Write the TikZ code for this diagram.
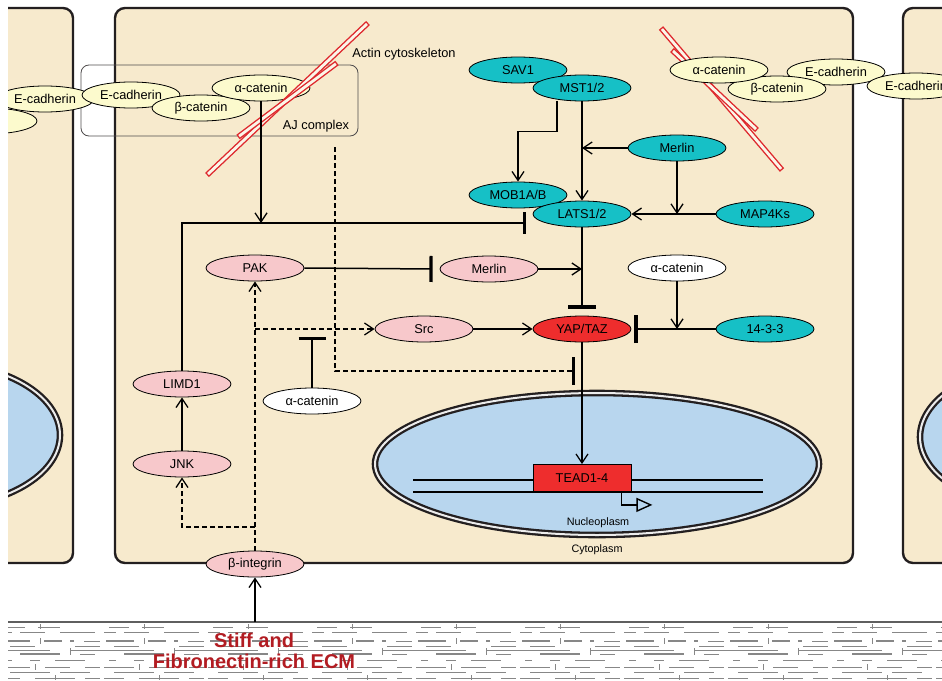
\documentclass[tikz,border=0pt]{standalone}
\usepackage{fontspec}
\setmainfont{Liberation Sans}
\usetikzlibrary{shapes.geometric,arrows.meta}
\definecolor{cellc}{RGB}{247,234,205}
\definecolor{nucc}{RGB}{184,214,238}
\definecolor{tealc}{RGB}{22,192,198}
\definecolor{pinkc}{RGB}{247,200,203}
\definecolor{creamc}{RGB}{252,250,205}
\definecolor{yapc}{RGB}{238,45,45}
\definecolor{actc}{RGB}{222,40,45}
\definecolor{ecmc}{RGB}{178,28,34}
\definecolor{edgec}{RGB}{35,31,32}
\definecolor{ecmg}{RGB}{135,135,135}
\newcommand{\actinbar}[2]{%
  \draw[actc,line width=5.6pt] #1 -- #2;
  \draw[white!55!cellc,line width=2.8pt,shorten >=1.4pt,shorten <=1.4pt] #1 -- #2;}
\tikzset{
  mol/.style={ellipse,draw=black,line width=0.8pt,minimum width=98pt,minimum height=26pt,inner sep=0pt,font=\fontsize{12.8}{14}\selectfont},
  tealn/.style={mol,fill=tealc},
  pinkn/.style={mol,fill=pinkc},
  creamn/.style={mol,fill=creamc},
  whiten/.style={mol,fill=white},
  act/.style={-{Straight Barb[length=9pt,width=12pt,line width=1.3pt]},line width=1.5pt},
  inh/.style={-{Bar[width=#1,line width=3.2pt]},line width=1.5pt},
  inh/.default=26pt,
  dsh/.style={dash pattern=on 5pt off 3pt},
  cellbox/.style={fill=cellc,draw=edgec,line width=2.4pt,rounded corners=10pt},
  nucbox/.style={fill=nucc,draw=edgec,line width=2.3pt,double=white!85!gray,double distance=2pt},
  lab/.style={font=\fontsize{12.8}{14}\selectfont,inner sep=0pt},
  slab/.style={font=\fontsize{10.8}{12}\selectfont,inner sep=0pt},
  ecmthin/.style={ecmg,line width=0.6pt},
  ecmthick/.style={ecmg,line width=1.4pt}
}
\begin{document}
\begin{tikzpicture}[x=1pt,y=-1pt]
\useasboundingbox (0,0) rectangle (942,680);
\begin{scope}
\clip (8,0) rectangle (942,680);
% cells
\draw[cellbox] (-100,8) rectangle (73,563);
\draw[cellbox] (115,8) rectangle (853,563);
\draw[cellbox] (903,8) rectangle (1100,563);
% nuclei
\draw[nucbox] (-63,435) ellipse [x radius=123pt,y radius=72pt];
\draw[nucbox] (1043,437) ellipse [x radius=123pt,y radius=72pt];
\draw[nucbox] (597,464) ellipse [x radius=222pt,y radius=71pt];
% DNA
\draw[line width=1.3pt] (413,480) -- (763,480);
\draw[line width=1.3pt] (413,492) -- (763,492);
% ECM
\fill[white] (8,622) rectangle (942,680);
\foreach \o in {0,104,...,936}{
\begin{scope}[xshift=\o pt]
\draw[ecmthin] (5,627) -- (25,627) (38,627) -- (60,627) (40,624) -- (40,629);
\draw[ecmthin] (0,632) -- (12,632) (20,632) -- (45,632) (60,632) -- (95,632);
\draw[ecmthick] (2,641) -- (30,641) (44,641) -- (62,641) (70,641) -- (74,641);
\draw[ecmthin] (40,638) -- (40,644) (84,641) -- (100,641);
\draw[ecmthin] (10,646) -- (35,646) (75,646) -- (100,646);
\draw[ecmthin] (0,650) -- (50,650) (70,650) -- (104,650) (70,648) -- (70,655);
\draw[ecmthick] (20,654) -- (60,654);
\draw[ecmthin] (80,654) -- (95,654);
\draw[ecmthin] (5,660) -- (12,660) (30,660) -- (40,660) (55,660) -- (85,660);
\draw[ecmthin] (0,667) -- (30,667) (45,667) -- (70,667) (85,667) -- (100,667) (35,664) -- (35,670);
\draw[ecmthin] (10,672) -- (50,672) (60,672) -- (90,672);
\draw[ecmthin] (0,678) -- (20,678) (35,678) -- (75,678) (85,678) -- (100,678) (55,675) -- (55,680);
\end{scope}}
\draw[ecmg!70!black,line width=1.8pt] (8,622) -- (942,622);
\node[font=\bfseries\fontsize{20}{22}\selectfont,text=ecmc,align=center,inner sep=0pt] (ecmlab) at (254,651) {Stiff and\\[-1pt]Fibronectin-rich ECM};
% AJ complex box
\node[draw=edgec!80,line width=0.8pt,rounded corners=8pt,minimum width=277pt,minimum height=71pt,inner sep=0pt] (ajbox) at (219.5,100.5) {};
\node[lab] (ajlab) at (316,126) {AJ complex};
\node[lab] (actlab) at (404,54) {Actin cytoskeleton};
% right actin bars (behind nodes)
\actinbar{(661,28)}{(782,170)}
\actinbar{(672,50)}{(757,130)}
% left cell nodes
\node[creamn] (lbcat) at (-12,121) {};
\node[creamn] (lecad) at (45,99) {E-cadherin};
% main AJ nodes
\node[creamn] (ecad) at (131,95) {E-cadherin};
\node[creamn] (bcat) at (201,108) {β-catenin};
\node[creamn] (acat) at (261,88) {α-catenin};
% right AJ nodes
\node[creamn] (ecad2) at (836,72) {E-cadherin};
\node[creamn] (bcat2) at (777,89) {β-catenin};
\node[creamn] (acat2) at (719,70) {α-catenin};
\node[creamn] (ecad3) at (916,86) {E-cadherin};
% left actin bars (over nodes)
\actinbar{(207,175)}{(368,23)}
\actinbar{(238,137)}{(337,63)}
% Hippo core
\node[tealn] (sav) at (518,70) {SAV1};
\node[tealn] (mst) at (582,88) {MST1/2};
\node[tealn] (merlin) at (677,148) {Merlin};
\node[tealn] (mob) at (518,195) {MOB1A/B};
\node[tealn] (lats) at (582,214) {LATS1/2};
\node[tealn] (map) at (765,214) {MAP4Ks};
\node[tealn] (p1433) at (765,329) {14-3-3};
% others
\node[pinkn] (pak) at (255,268) {PAK};
\node[pinkn] (merlin2) at (489,269) {Merlin};
\node[whiten] (acatw1) at (677,268) {α-catenin};
\node[pinkn] (src) at (424,329) {Src};
\node[mol,fill=yapc] (yap) at (582,329) {YAP/TAZ};
\node[whiten] (acatw2) at (312,401) {α-catenin};
\node[pinkn] (limd) at (182,384) {LIMD1};
\node[pinkn] (jnk) at (182,464) {JNK};
\node[pinkn] (bint) at (255,564) {β-integrin};
\node[draw=black,line width=0.8pt,fill=yapc,minimum width=98pt,minimum height=27pt,inner sep=0pt,font=\fontsize{12.8}{14}\selectfont] (tead) at (582,478) {TEAD1-4};
\node[slab] (nucl) at (598,523) {Nucleoplasm};
\node[slab] (cyto) at (597,550) {Cytoplasm};
% junction coordinates
\coordinate (j1) at (582,148);
\coordinate (j2) at (677,214);
\coordinate (j3) at (582,269);
\coordinate (j4) at (677,329);
\coordinate (j5) at (255,329);
\coordinate (j6) at (312,337);
\coordinate (j7) at (255,527);
\coordinate (k1) at (526,223);
\coordinate (aj1) at (335,147);
\coordinate (k2) at (575,371);
\coordinate (ecm) at (255,622);
% connectors
\draw[act] ([xshift=-25pt]mst.south) -- ++(0,30) -| (mob.north);
\draw[act] (mst.south) -- (lats.north);
\draw[act] (merlin.west) -- (j1);
\draw[act] (merlin.south) -- (j2);
\draw[act] (map.west) -- (lats.east);
\draw[inh=28pt] (lats.south) -- ([yshift=7pt]yap.north);
\draw[inh=22pt] (limd.north) |- (k1);
\draw[act] (acat.south) -- (acat.south |- k1);
\draw[inh=28pt,dsh] (aj1) |- (k2);
\draw[inh=26pt] (pak.east) -- ([xshift=-7pt]merlin2.west);
\draw[act] (merlin2.east) -- (j3);
\draw[act] (acatw1.south) -- (j4);
\draw[inh=28pt] (p1433.west) -- ([xshift=3pt]yap.east);
\draw[act] (src.east) -- (yap.west);
\draw[act] (yap.south) -- (tead.north);
\draw[act,dsh] (bint.north) -- (pak.south);
\draw[act,dsh] (j5) -- (src.west);
\draw[inh=27pt] (acatw2.north) -- (j6);
\draw[act] (jnk.north) -- (limd.south);
\draw[act,dsh] (j7) -| (jnk.south);
\draw[act] (ecm) -- (bint.south);
\draw[line width=1.4pt,-{Triangle[open,length=16pt,width=14pt,line width=1.4pt]}] ([xshift=-10pt]tead.south east) -- ++(0,13) -- ++(31,0);
\end{scope}
\end{tikzpicture}
\end{document}
